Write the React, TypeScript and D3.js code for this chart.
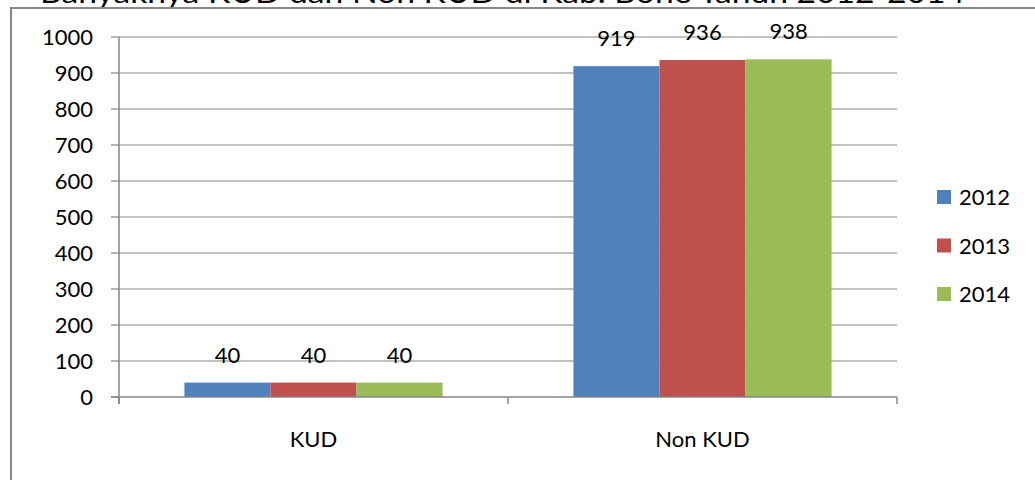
import React from "react";
import * as d3 from "d3";

const categories = ["KUD", "Non KUD"];
const seriesNames = ["2012", "2013", "2014"];
const values2012 = [40, 919];
const values2013 = [40, 936];
const values2014 = [40, 938];
const yTicks = [0, 100, 200, 300, 400, 500, 600, 700, 800, 900, 1000];
const colors = ["#4F81BD", "#C0504D", "#9BBB59"];
const title = "Banyaknya KUD dan Non KUD di Kab. Bone Tahun 2012-2014";

const seriesValues = [values2012, values2013, values2014];

export default function App() {
  const W = 1035;
  const H = 480;
  const left = 119;
  const right = 897;
  const top = 37;
  const bottom = 397;
  const font = "Lato, 'Open Sans', sans-serif";

  const y = d3.scaleLinear().domain([0, 1000]).range([bottom, top]);
  const x0 = d3.scaleBand<string>().domain(categories).range([left, right]).padding(0);
  const x1 = d3
    .scaleBand<string>()
    .domain(seriesNames)
    .range([0, x0.bandwidth()])
    .paddingInner(0)
    .paddingOuter(0.76);

  const grid = "#868686";

  return (
    <svg
      width={W}
      height={H}
      style={{ position: "absolute", left: 0, top: 0, background: "#fff" }}
      fontFamily={font}
    >
      <rect x={0} y={0} width={W} height={H} fill="#fff" />
      <text
        x={40}
        y={3}
        fontSize={28}
        textLength={925}
        lengthAdjust="spacingAndGlyphs"
        fill="#000"
      >
        {title}
      </text>
      <rect x={11} y={8} width={W + 20} height={H + 20} fill="none" stroke="#898989" strokeWidth={2} />

      {yTicks.map((t) => (
        <g key={t}>
          {t !== 0 && (
            <line x1={left} x2={right} y1={y(t)} y2={y(t)} stroke={grid} strokeWidth={1.2} />
          )}
          <line x1={left - 8} x2={left} y1={y(t)} y2={y(t)} stroke={grid} strokeWidth={1.2} />
          <text x={93} y={y(t)} dy="0.36em" textAnchor="end" fontSize={22} fill="#000">
            {t}
          </text>
        </g>
      ))}

      {categories.map((c, ci) => (
        <g key={c} transform={`translate(${x0(c)},0)`}>
          {seriesNames.map((s, si) => {
            const v = seriesValues[si][ci];
            const bx = x1(s) as number;
            return (
              <g key={s}>
                <rect
                  x={bx}
                  y={y(v)}
                  width={x1.bandwidth()}
                  height={y(0) - y(v)}
                  fill={colors[si]}
                />
                <text
                  x={bx + x1.bandwidth() / 2}
                  y={y(v) - 20}
                  textAnchor="middle"
                  fontSize={22}
                  fill="#000"
                >
                  {v}
                </text>
              </g>
            );
          })}
        </g>
      ))}

      <line x1={left} x2={left} y1={top} y2={bottom + 7} stroke={grid} strokeWidth={1.5} />
      <line x1={left - 8} x2={right} y1={bottom} y2={bottom} stroke={grid} strokeWidth={1.5} />
      {[left, ...categories.map((c) => (x0(c) as number) + x0.bandwidth())].map((tx, i) => (
        <line key={i} x1={tx} x2={tx} y1={bottom} y2={bottom + 7} stroke={grid} strokeWidth={1.5} />
      ))}
      {categories.map((c) => (
        <text
          key={c}
          x={(x0(c) as number) + x0.bandwidth() / 2}
          y={447}
          textAnchor="middle"
          fontSize={22}
          fill="#000"
        >
          {c}
        </text>
      ))}

      {seriesNames.map((s, i) => (
        <g key={s} transform={`translate(937, ${190 + i * 48.5})`}>
          <rect x={0} y={0} width={14} height={14} fill={colors[i]} />
          <text x={22} y={15} fontSize={22} fill="#000">
            {s}
          </text>
        </g>
      ))}
    </svg>
  );
}
